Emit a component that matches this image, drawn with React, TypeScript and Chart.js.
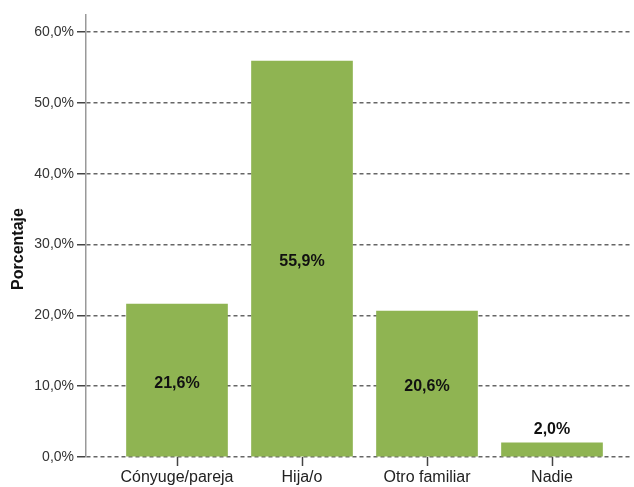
import React, { useEffect, useRef } from "react";
import { Chart, registerables } from "chart.js";

Chart.register(...registerables);

const categories = ["Cónyuge/pareja", "Hija/o", "Otro familiar", "Nadie"];
const values = [21.6, 55.9, 20.6, 2.0];
const yTicks = [0, 10, 20, 30, 40, 50, 60];
const yTitle = "Porcentaje";

const fmt = (v: number) => v.toFixed(1).replace(".", ",") + "%";
const FONT = "Arial, 'Liberation Sans', sans-serif";

const labelPlugin = {
  id: "barLabels",
  afterDatasetsDraw(chart: any) {
    const ctx = chart.ctx;
    const meta = chart.getDatasetMeta(0);
    ctx.save();
    ctx.font = "bold 16px " + FONT;
    ctx.fillStyle = "#111";
    ctx.textAlign = "center";
    ctx.textBaseline = "middle";
    meta.data.forEach((bar: any, i: number) => {
      const v = values[i];
      const h = bar.base - bar.y;
      let y = (bar.y + bar.base) / 2 + 3;
      if (h < 30) y = bar.y - 13;
      ctx.fillText(fmt(v), bar.x, y);
    });
    // y axis title
    ctx.translate(19, 249);
    ctx.rotate(-Math.PI / 2);
    ctx.font = "bold 16px " + FONT;
    ctx.fillText(yTitle, 0, 0);
    ctx.restore();
  },
};

export default function App() {
  const ref = useRef<HTMLCanvasElement>(null);
  useEffect(() => {
    document.body.style.margin = "0";
    const chart = new Chart(ref.current!, {
      type: "bar",
      data: {
        datasets: [
          {
            data: values.map((v, i) => ({ x: i + 1, y: v })),
            backgroundColor: "#8fb452",
            barThickness: 101,
          },
        ],
      },
      options: {
        animation: false,
        responsive: false,
        layout: { padding: { top: 15, right: 4, left: 0, bottom: 0 } },
        plugins: { legend: { display: false }, tooltip: { enabled: false } },
        scales: {
          x: {
            type: "linear",
            offset: false,
            min: 0.272,
            max: 4.624,
            afterBuildTicks: (s: any) => {
              s.ticks = categories.map((_, i) => ({ value: i + 1 }));
            },
            afterFit: (s: any) => {
              s.height = 30;
            },
            ticks: {
              callback: (v: any) => categories[Number(v) - 1] ?? "",
              font: { family: FONT, size: 16 },
              color: "#222",
              padding: 2,
              autoSkip: false,
              maxRotation: 0,
            },
            grid: {
              offset: false,
              drawOnChartArea: false,
              drawTicks: true,
              tickLength: 9,
              tickColor: "#444",
              tickWidth: 1.5,
            },
            border: { display: false },
          },
          y: {
            min: 0,
            max: 62.4,
            afterBuildTicks: (s: any) => {
              s.ticks = yTicks.map((v) => ({ value: v }));
            },
            afterFit: (s: any) => {
              s.width = 86;
            },
            ticks: {
              callback: (v: any) => fmt(Number(v)),
              font: { family: FONT, size: 14 },
              color: "#333",
              padding: 3,
            },
            grid: {
              color: "#666",
              lineWidth: 1.5,
              drawTicks: true,
              tickLength: 9,
              tickColor: "#444",
              tickWidth: 1.5,
              tickBorderDash: [],
            } as any,
            border: { display: true, color: "#999", width: 1.5, dash: [4, 3] },
            title: { display: false },
          },
        },
      },
      plugins: [labelPlugin],
    } as any);
    return () => chart.destroy();
  }, []);
  return (
    <div style={{ position: "absolute", left: 0, top: 0, width: 634, height: 487, background: "#fff" }}>
      <canvas ref={ref} width={634} height={487} />
    </div>
  );
}
